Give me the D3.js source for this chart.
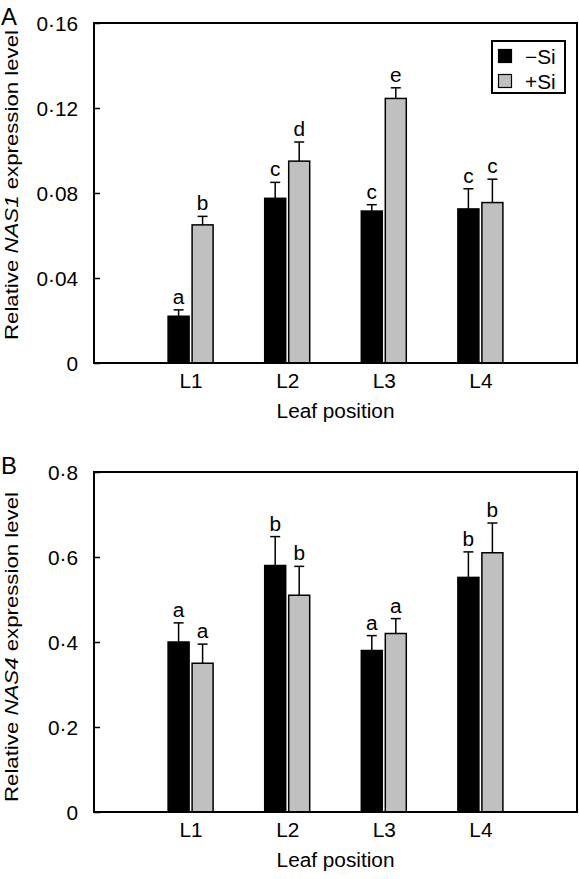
<!DOCTYPE html>
<html>
<head>
<meta charset="utf-8">
<script src="https://cdn.jsdelivr.net/npm/d3@7/dist/d3.min.js"></script>
<style>
  html, body { margin: 0; padding: 0; background: #fff; }
  svg { display: block; }
  text { font-family: "Liberation Sans", Arial, Helvetica, sans-serif; fill: #000; }
</style>
</head>
<body>
<script>
// ---- Data ----
const categories = ["L1", "L2", "L3", "L4"];
const seriesNames = ["\u2212Si", "+Si"];

const nas1Minus = [0.022, 0.0775, 0.0715, 0.0725];
const nas1MinusErr = [0.003, 0.0075, 0.003, 0.0095];
const nas1Plus = [0.065, 0.095, 0.1245, 0.0755];
const nas1PlusErr = [0.004, 0.009, 0.005, 0.011];
const nas1MinusLetters = ["a", "c", "c", "c"];
const nas1PlusLetters = ["b", "d", "e", "c"];
const nas1Ticks = [0, 0.04, 0.08, 0.12, 0.16];
const nas1TickLabels = ["0", "0\u00b704", "0\u00b708", "0\u00b712", "0\u00b716"];

const nas4Minus = [0.40, 0.58, 0.38, 0.552];
const nas4MinusErr = [0.045, 0.068, 0.035, 0.06];
const nas4Plus = [0.35, 0.51, 0.42, 0.61];
const nas4PlusErr = [0.045, 0.068, 0.035, 0.07];
const nas4MinusLetters = ["a", "b", "a", "b"];
const nas4PlusLetters = ["a", "b", "a", "b"];
const nas4Ticks = [0, 0.2, 0.4, 0.6, 0.8];
const nas4TickLabels = ["0", "0\u00b72", "0\u00b74", "0\u00b76", "0\u00b78"];

const W = 579, H = 879;
const svg = d3.select("body").append("svg").attr("width", W).attr("height", H);

const FS = 20;
const SX = 1.04; // horizontal glyph stretch

function stretchedText(g, x, y, str, anchor, size) {
  const t = g.append("text")
    .attr("transform", `translate(${x},${y}) scale(${SX},1)`)
    .attr("text-anchor", anchor || "start")
    .style("font-size", (size || FS) + "px")
    .text(str);
  return t;
}

function panel(opts) {
  const left = 94, right = 577, top = opts.top, bottom = opts.top + 340;
  const g = svg.append("g");
  const x = d3.scalePoint().domain(categories).range([left, right]).padding(1);
  const y = d3.scaleLinear().domain([0, opts.ymax]).range([bottom, top]);
  const bw = 21, gap = 1.5;

  // y axis ticks (inward) + labels
  const yAxis = d3.axisLeft(y).tickValues(opts.ticks)
    .tickFormat((d, i) => opts.tickLabels[i])
    .tickSizeInner(-6).tickSizeOuter(0).tickPadding(16);
  const ya = g.append("g").attr("transform", `translate(${left},0)`).call(yAxis);
  ya.select(".domain").remove();
  ya.selectAll("line").attr("stroke", "#000").attr("stroke-width", 1.5);
  ya.selectAll("text").remove();
  ya.selectAll(".tick").each(function(d, i) {
    stretchedText(d3.select(this), -16, 7.5, opts.tickLabels[i], "end");
  });

  // x axis labels
  const xAxis = d3.axisBottom(x).tickSize(0).tickPadding(10);
  const xa = g.append("g").attr("transform", `translate(0,${bottom})`).call(xAxis);
  xa.select(".domain").remove();
  xa.selectAll("text").remove();
  xa.selectAll(".tick").each(function(d) {
    stretchedText(d3.select(this), 0, 24.5, d, "middle");
  });

  const series = [
    { vals: opts.minus, errs: opts.minusErr, letters: opts.minusLetters, fill: "#000", off: -gap - bw },
    { vals: opts.plus, errs: opts.plusErr, letters: opts.plusLetters, fill: "#c0c0c0", off: gap }
  ];
  series.forEach(s => {
    const sg = g.append("g");
    categories.forEach((c, i) => {
      const x0 = x(c) + s.off;
      const cx = x0 + bw / 2;
      const v = s.vals[i], e = s.errs[i];
      sg.append("line").attr("x1", cx).attr("x2", cx)
        .attr("y1", y(v)).attr("y2", y(v + e))
        .attr("stroke", "#000").attr("stroke-width", 1.5);
      sg.append("line").attr("x1", cx - 5).attr("x2", cx + 5)
        .attr("y1", y(v + e)).attr("y2", y(v + e))
        .attr("stroke", "#000").attr("stroke-width", 1.5);
      sg.append("rect").attr("x", x0).attr("y", y(v))
        .attr("width", bw).attr("height", y(0) - y(v))
        .attr("fill", s.fill).attr("stroke", "#000").attr("stroke-width", 1.5);
      stretchedText(sg, cx, y(v + e) - 6, s.letters[i], "middle");
    });
  });

  // frame
  g.append("rect").attr("x", left).attr("y", top)
    .attr("width", right - left).attr("height", bottom - top)
    .attr("fill", "none").attr("stroke", "#000").attr("stroke-width", 2);

  // y title
  const yt = g.append("text")
    .attr("transform", `translate(17.5,${opts.ytitleY}) rotate(-90)`)
    .attr("text-anchor", "middle")
    .attr("textLength", 310).attr("lengthAdjust", "spacingAndGlyphs")
    .style("font-size", "19px");
  yt.append("tspan").text("Relative ");
  yt.append("tspan").style("font-style", "italic").text(opts.gene);
  yt.append("tspan").text(" expression level");

  // x title
  stretchedText(g, (left + right) / 2, bottom + 55, "Leaf position", "middle");

  // panel letter
  stretchedText(g, 1, opts.top + 1.5, opts.letter, "start", 23);

  if (opts.legend) {
    const lg = g.append("g");
    lg.append("rect").attr("x", 492).attr("y", 41).attr("width", 73).attr("height", 52)
      .attr("fill", "#fff").attr("stroke", "#000").attr("stroke-width", 2);
    const fills = ["#000", "#c0c0c0"];
    seriesNames.forEach((nm, i) => {
      lg.append("rect").attr("x", 498.5).attr("y", 49.5 + i * 25).attr("width", 13).attr("height", 13)
        .attr("fill", fills[i]).attr("stroke", "#000").attr("stroke-width", 1.2);
      stretchedText(lg, 525, 63.5 + i * 25, nm, "start");
    });
  }
}

panel({
  top: 23, ymax: 0.16, ticks: nas1Ticks, tickLabels: nas1TickLabels,
  minus: nas1Minus, minusErr: nas1MinusErr, plus: nas1Plus, plusErr: nas1PlusErr,
  minusLetters: nas1MinusLetters, plusLetters: nas1PlusLetters,
  gene: "NAS1", ytitleY: 185, letter: "A", legend: true
});
panel({
  top: 472, ymax: 0.8, ticks: nas4Ticks, tickLabels: nas4TickLabels,
  minus: nas4Minus, minusErr: nas4MinusErr, plus: nas4Plus, plusErr: nas4PlusErr,
  minusLetters: nas4MinusLetters, plusLetters: nas4PlusLetters,
  gene: "NAS4", ytitleY: 647, letter: "B", legend: false
});
</script>
</body>
</html>
